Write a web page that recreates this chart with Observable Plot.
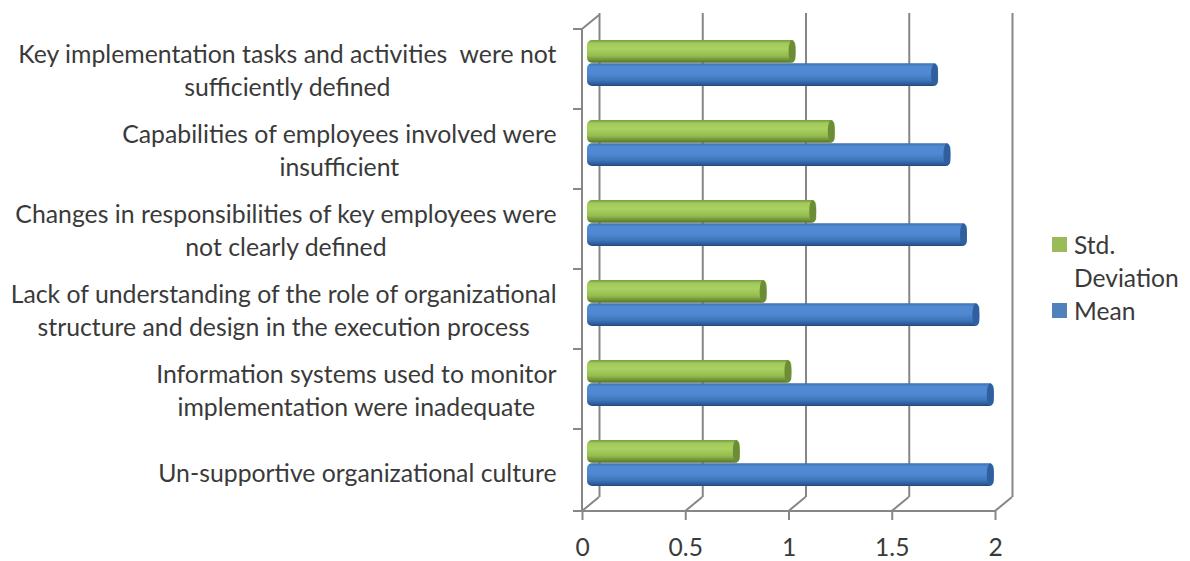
<!DOCTYPE html>
<html>
<head>
<meta charset="utf-8">
<script src="https://cdn.jsdelivr.net/npm/d3@7"></script>
<script src="https://cdn.jsdelivr.net/npm/@observablehq/plot@0.6"></script>
<style>
  html, body { margin: 0; padding: 0; background: #fff; }
  #chart { position: relative; width: 1190px; height: 561px; overflow: hidden; font-family: Lato, sans-serif; }
  #legend { position: absolute; left: 1052px; top: 228px; width: 138px; color: #3a3a3a; font-size: 24.6px; line-height: 33px; }
  #legend .row { display: flex; align-items: flex-start; }
  #legend .swatch { flex: none; width: 15px; height: 15px; margin: 9px 7px 0 0; }
</style>
</head>
<body>
<div id="chart">
  <div id="legend"></div>
</div>
<script>
const categories = [
  "Key implementation tasks and activities  were not\nsufficiently defined",
  "Capabilities of employees involved were\ninsufficient",
  "Changes in responsibilities of key employees were\nnot clearly defined",
  "Lack of understanding of the role of organizational\nstructure and design in the execution process",
  "Information systems used to monitor\nimplementation were inadequate",
  "Un-supportive organizational culture"
];
const meanValues = [1.70, 1.76, 1.84, 1.90, 1.97, 1.97];
const stdDevValues = [1.01, 1.20, 1.11, 0.87, 0.99, 0.74];
const xTicks = [0, 0.5, 1, 1.5, 2];

const meanRows = categories.map((category, i) => ({category, value: meanValues[i]}));
const stdDevRows = categories.map((category, i) => ({category, value: stdDevValues[i]}));

// Offsets that fake the 3-D box: back wall and the plane the cylinders sit in.
const wallDx = 17, wallDy = -14;
const barDx = 5, barDy = -6;
const axisGrey = "#868686";
const textColor = "#3a3a3a";

// Vertical shading that makes a flat bar read as a cylinder.
function cylinderGradients() {
  const defs = d3.create("svg:defs");
  const add = (id, stops) => {
    const g = defs.append("linearGradient").attr("id", id)
      .attr("x1", 0).attr("y1", 0).attr("x2", 0).attr("y2", 1);
    for (const [offset, color] of stops) {
      g.append("stop").attr("offset", offset).attr("stop-color", color);
    }
  };
  add("cyl-green", [[0, "#7b9a3e"], [0.14, "#a0c95a"], [0.38, "#a9d262"], [0.7, "#94bd4f"], [0.9, "#6d8c34"], [1, "#586f2a"]]);
  add("cyl-blue", [[0, "#3f71b0"], [0.14, "#4f8ad2"], [0.45, "#5089d3"], [0.75, "#3f75ba"], [0.92, "#2d5a94"], [1, "#234a7c"]]);
  return defs.node();
}

// Left axis with ticks on band edges, the floor line and the slanted depth lines.
function boxFrame(index, {x, y}, values, {height, marginBottom}) {
  const bottom = height - marginBottom;
  const edges = [...categories.map((c) => y(c)), bottom];
  const top = edges[0];
  const g = d3.create("svg:g").attr("fill", "none").attr("stroke", axisGrey).attr("stroke-width", 2);
  const path = d3.path();
  path.moveTo(x(0), top); path.lineTo(x(0), bottom);
  path.moveTo(x(0), bottom); path.lineTo(x(2), bottom);
  path.moveTo(x(0), top); path.lineTo(x(0) + wallDx, top + wallDy);
  for (const e of edges) { path.moveTo(x(0) - 9, e); path.lineTo(x(0), e); }
  for (const t of xTicks) { path.moveTo(x(t), bottom); path.lineTo(x(t) + wallDx, bottom + wallDy); }
  g.append("path").attr("d", path.toString());
  return g.node();
}

function cylinders(rows, fill, capFill, insetTop, insetBottom) {
  const common = {y: "category", insetTop, insetBottom, dx: barDx, dy: barDy};
  return [
    Plot.barX(rows, {...common, x1: 0, x2: "value", fill, rx: 5, ry: 5}),
    Plot.barX(rows, {...common, x1: "value", x2: "value", insetLeft: -7, fill: capFill, rx: 3.5, ry: 11})
  ];
}

const band = 484 / categories.length;
const barPad = 17;

const plot = Plot.plot({
  width: 1190,
  height: 561,
  marginLeft: 582,
  marginRight: 195,
  marginTop: 27,
  marginBottom: 50,
  style: {background: "transparent", fontFamily: "Lato, sans-serif", overflow: "visible"},
  x: {domain: [0, 2]},
  y: {domain: categories, padding: 0, axis: null},
  marks: [
    cylinderGradients,
    Plot.ruleX(xTicks, {stroke: axisGrey, strokeWidth: 2, dx: wallDx, dy: wallDy}),
    boxFrame,
    Plot.axisX({
      ticks: xTicks,
      tickSize: 9,
      tickPadding: 18,
      tickFormat: (d) => String(d),
      fontSize: 24.6,
      stroke: axisGrey,
      strokeWidth: 2,
      color: textColor,
      fill: textColor,
      label: null
    }),
    ...cylinders(meanRows, "url(#cyl-blue)", "#2f5f9e", band / 2, barPad),
    ...cylinders(stdDevRows, "url(#cyl-green)", "#6c8c36", barPad, band / 2),
    Plot.text(categories, {
      x: () => 0,
      y: (d) => d,
      text: (d) => d,
      dx: -26,
      dy: 2,
      fontSize: 24.8,
      lineHeight: 1.33,
      fill: textColor,
      lineWidth: 100,
      className: "cat-label"
    })
  ]
});

const chart = document.getElementById("chart");
chart.insertBefore(plot, chart.firstChild);

// Each label block is centred on itself, with its longest line ending at the axis.
for (const text of plot.querySelectorAll(".cat-label text")) {
  const w = text.getBBox().width;
  const lift = text.querySelector("tspan") ? -3 : 0;
  text.setAttribute("transform", `${text.getAttribute("transform") || ""} translate(${-w / 2},${lift})`);
}

// Legend beside the plot.
const legendItems = [
  {label: "Std.<br>Deviation", color: "#9bbb59"},
  {label: "Mean", color: "#4f81bd"}
];
document.getElementById("legend").innerHTML = legendItems.map((d) =>
  `<div class="row"><span class="swatch" style="background:${d.color}"></span><span>${d.label}</span></div>`
).join("");
</script>
</body>
</html>
